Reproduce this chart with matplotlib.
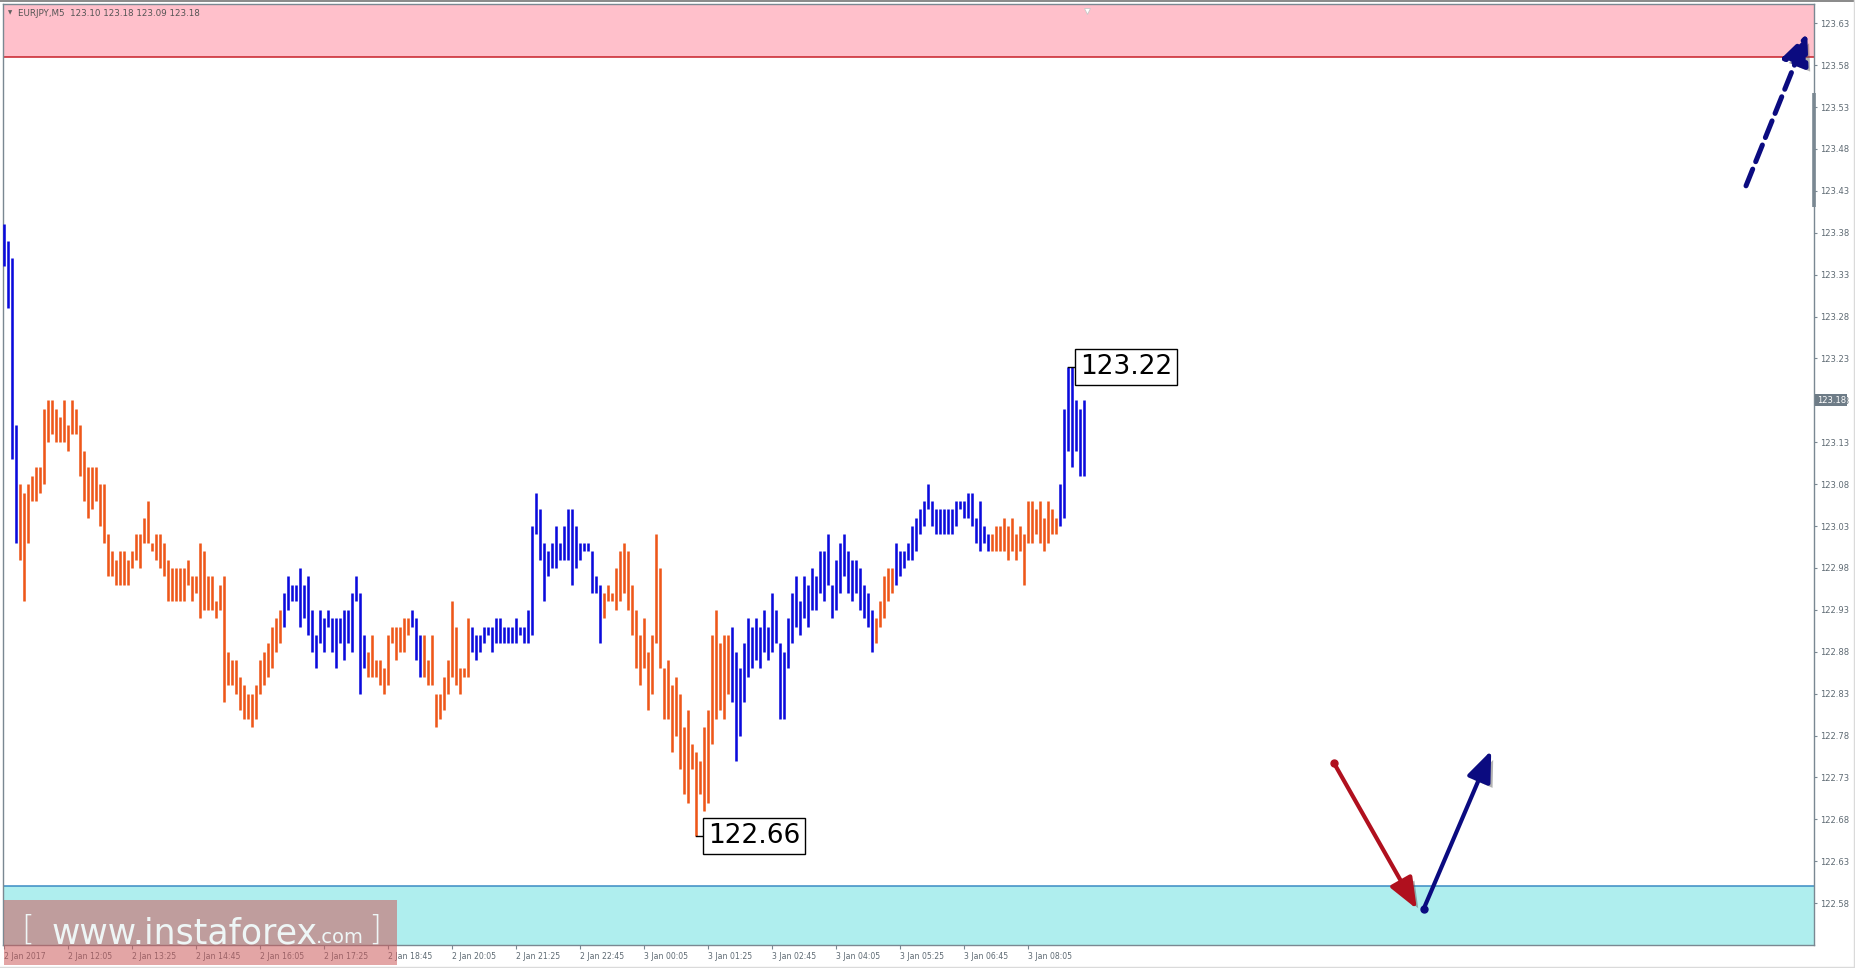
import matplotlib
matplotlib.use("Agg")
import matplotlib.pyplot as plt
import matplotlib.patheffects as pe
import matplotlib.transforms as mtrans
from matplotlib.patches import Rectangle
from matplotlib.lines import Line2D
import numpy as np

# EURJPY M5 bars (highs / lows per bar, 1 = up bar)
highs = [
    123.39, 123.37, 123.35, 123.15, 123.08, 123.07, 123.08, 123.09, 123.10, 123.10,
    123.17, 123.18, 123.18, 123.17, 123.16, 123.18, 123.15, 123.18, 123.17, 123.15,
    123.12, 123.10, 123.10, 123.10, 123.08, 123.08, 123.02, 123.00, 122.99, 123.00,
    123.00, 122.99, 123.00, 123.02, 123.02, 123.04, 123.06, 123.01, 123.02, 123.02,
    123.01, 122.99, 122.98, 122.98, 122.98, 122.98, 122.99, 122.97, 122.97, 123.01,
    123.00, 122.97, 122.97, 122.94, 122.96, 122.97, 122.88, 122.87, 122.87, 122.85,
    122.84, 122.83, 122.83, 122.84, 122.87, 122.88, 122.89, 122.91, 122.92, 122.93,
    122.95, 122.97, 122.96, 122.96, 122.98, 122.96, 122.97, 122.93, 122.90, 122.93,
    122.92, 122.93, 122.92, 122.92, 122.92, 122.93, 122.93, 122.95, 122.97, 122.95,
    122.90, 122.88, 122.90, 122.87, 122.87, 122.86, 122.90, 122.91, 122.91, 122.91,
    122.92, 122.92, 122.93, 122.92, 122.90, 122.90, 122.87, 122.90, 122.83, 122.83,
    122.85, 122.87, 122.94, 122.91, 122.86, 122.86, 122.92, 122.91, 122.90, 122.90,
    122.91, 122.91, 122.91, 122.92, 122.92, 122.91, 122.91, 122.91, 122.92, 122.91,
    122.91, 122.93, 123.03, 123.07, 123.05, 123.01, 123.00, 123.01, 123.03, 123.01,
    123.03, 123.05, 123.05, 123.03, 123.01, 123.01, 123.01, 123.00, 122.97, 122.96,
    122.95, 122.96, 122.95, 122.98, 123.00, 123.01, 123.00, 122.96, 122.93, 122.90,
    122.92, 122.88, 122.90, 123.02, 122.98, 122.86, 122.87, 122.84, 122.85, 122.83,
    122.79, 122.81, 122.77, 122.76, 122.75, 122.79, 122.81, 122.90, 122.93, 122.89,
    122.90, 122.90, 122.91, 122.88, 122.86, 122.89, 122.92, 122.91, 122.92, 122.91,
    122.93, 122.91, 122.95, 122.93, 122.89, 122.88, 122.92, 122.95, 122.97, 122.94,
    122.97, 122.96, 122.98, 122.97, 123.00, 123.00, 123.02, 122.96, 122.99, 123.01,
    123.02, 123.00, 122.99, 122.99, 122.98, 122.96, 122.95, 122.93, 122.92, 122.94,
    122.97, 122.98, 122.98, 123.01, 123.00, 123.00, 123.01, 123.03, 123.04, 123.05,
    123.06, 123.08, 123.06, 123.05, 123.05, 123.05, 123.05, 123.05, 123.06, 123.06,
    123.06, 123.07, 123.07, 123.04, 123.06, 123.03, 123.02, 123.02, 123.03, 123.03,
    123.04, 123.03, 123.04, 123.02, 123.03, 123.02, 123.06, 123.06, 123.05, 123.06,
    123.04, 123.06, 123.05, 123.04, 123.08, 123.17, 123.22, 123.22, 123.18, 123.17,
    123.18,
]
lows = [
    123.34, 123.29, 123.11, 123.01, 122.99, 122.94, 123.01, 123.06, 123.06, 123.07,
    123.08, 123.13, 123.14, 123.13, 123.13, 123.13, 123.12, 123.14, 123.14, 123.09,
    123.06, 123.04, 123.05, 123.06, 123.03, 123.01, 122.97, 122.97, 122.96, 122.96,
    122.96, 122.96, 122.98, 122.99, 122.98, 123.01, 123.01, 123.00, 122.99, 122.98,
    122.97, 122.94, 122.94, 122.94, 122.94, 122.94, 122.96, 122.94, 122.95, 122.92,
    122.93, 122.93, 122.93, 122.92, 122.93, 122.82, 122.84, 122.84, 122.83, 122.81,
    122.80, 122.80, 122.79, 122.80, 122.83, 122.84, 122.85, 122.86, 122.88, 122.89,
    122.91, 122.93, 122.94, 122.94, 122.91, 122.92, 122.90, 122.88, 122.86, 122.89,
    122.88, 122.91, 122.88, 122.86, 122.89, 122.87, 122.89, 122.88, 122.94, 122.83,
    122.86, 122.85, 122.85, 122.85, 122.84, 122.83, 122.84, 122.89, 122.87, 122.88,
    122.88, 122.90, 122.91, 122.87, 122.85, 122.85, 122.84, 122.84, 122.79, 122.80,
    122.81, 122.83, 122.85, 122.84, 122.83, 122.85, 122.85, 122.88, 122.87, 122.88,
    122.89, 122.90, 122.88, 122.89, 122.89, 122.89, 122.89, 122.89, 122.89, 122.90,
    122.89, 122.89, 122.90, 123.02, 122.99, 122.94, 122.97, 122.98, 122.98, 122.99,
    122.99, 122.99, 122.96, 122.98, 122.99, 123.00, 123.00, 122.95, 122.95, 122.89,
    122.92, 122.94, 122.94, 122.93, 122.94, 122.95, 122.93, 122.90, 122.86, 122.84,
    122.86, 122.81, 122.83, 122.89, 122.86, 122.80, 122.80, 122.76, 122.78, 122.74,
    122.71, 122.70, 122.74, 122.66, 122.71, 122.69, 122.70, 122.77, 122.80, 122.81,
    122.80, 122.83, 122.82, 122.75, 122.78, 122.82, 122.85, 122.86, 122.87, 122.86,
    122.88, 122.87, 122.88, 122.89, 122.80, 122.80, 122.86, 122.89, 122.91, 122.90,
    122.92, 122.91, 122.93, 122.93, 122.95, 122.94, 122.96, 122.92, 122.93, 122.95,
    122.97, 122.95, 122.94, 122.95, 122.93, 122.92, 122.91, 122.88, 122.89, 122.91,
    122.92, 122.94, 122.95, 122.96, 122.97, 122.98, 122.99, 122.99, 123.00, 123.02,
    123.03, 123.05, 123.03, 123.02, 123.02, 123.02, 123.02, 123.02, 123.03, 123.05,
    123.04, 123.04, 123.03, 123.01, 123.00, 123.01, 123.00, 123.00, 123.00, 123.00,
    123.00, 122.99, 123.00, 122.99, 123.00, 122.96, 123.01, 123.01, 123.02, 123.01,
    123.00, 123.01, 123.02, 123.02, 123.03, 123.04, 123.12, 123.10, 123.12, 123.09,
    123.09,
]
bar_up = [1] * 4 + [0] * 66 + [1] * 21 + [0] * 11 + [1] * 3 + [0] * 12 + [1] * 33 \
    + [0] * 32 + [1] * 36 + [0] * 5 + [1] * 24 + [0] * 17 + [1] * 7

last_open, last_close = 123.10, 123.18

time_labels = [
    "2 Jan 2017", "2 Jan 12:05", "2 Jan 13:25", "2 Jan 14:45", "2 Jan 16:05",
    "2 Jan 17:25", "2 Jan 18:45", "2 Jan 20:05", "2 Jan 21:25", "2 Jan 22:45",
    "3 Jan 00:05", "3 Jan 01:25", "3 Jan 02:45", "3 Jan 04:05", "3 Jan 05:25",
    "3 Jan 06:45", "3 Jan 08:05",
]
label_step = 16  # one time label every 16 bars

price_ticks = [122.58, 122.63, 122.68, 122.73, 122.78, 122.83, 122.88, 122.93,
               122.98, 123.03, 123.08, 123.13, 123.18, 123.23, 123.28, 123.33,
               123.38, 123.43, 123.48, 123.53, 123.58, 123.63]

resistance_zone = (123.59, 123.70)
support_zone = (122.40, 122.60)

# forecast arrows: (bar, price) -> (bar, price)
down_arrow = ((332.6, 122.747), (353.3, 122.573))
up_arrow = ((355.0, 122.573), (371.9, 122.762))
target_arrow = ((435.6, 123.436), (450.9, 123.618))


def main():
    W, H = 1856, 968
    fig = plt.figure(figsize=(W / 100, H / 100), dpi=100)
    fig.patch.set_facecolor("white")
    ax = fig.add_axes([3 / W, 1 - 945 / H, 1811 / W, 941 / H])

    axis_gray = "#7A8892"
    text_gray = "#5E6A73"
    up_col = "#0A0ADC"
    down_col = "#EE5719"

    # zones
    ax.axhspan(*resistance_zone, facecolor="#FFC0CB", edgecolor="none", zorder=0)
    ax.axhline(resistance_zone[0], color="#C8202A", lw=1.1, zorder=1)
    ax.axhspan(*support_zone, facecolor="#AFEEEE", edgecolor="none", zorder=0)
    ax.axhline(support_zone[1], color="#3A8CC4", lw=1.1, zorder=1)

    x = np.arange(len(highs))
    hi = np.array(highs)
    lo = np.array(lows)
    up = np.array(bar_up) == 1
    ax.vlines(x[up], lo[up], hi[up], color=up_col, lw=1.85, zorder=3)
    ax.vlines(x[~up], lo[~up], hi[~up], color=down_col, lw=1.85, zorder=3)

    # swing low and the high after it
    il = int(np.argmin(lo))
    ih = il + int(np.argmax(hi[il:]))
    for i, p in [(ih, hi[ih]), (il, lo[il])]:
        ax.plot([i, i + 2.3], [p, p], color="black", lw=1, zorder=4)
        ax.text(i + 3.0, p, f"{p:.2f}", fontsize=19, ha="left", va="center",
                color="black", zorder=5,
                bbox=dict(boxstyle="square,pad=0.18", fc="white", ec="black", lw=1))

    # forecast arrows with a soft shadow
    shadow = [pe.SimplePatchShadow(offset=(3, -3), shadow_rgbFace="#555555", alpha=0.45),
              pe.Normal()]
    for (start, end), col in [(down_arrow, "#B0101E"), (up_arrow, "#0B0B80")]:
        a = ax.annotate("", xy=end, xytext=start,
                        arrowprops=dict(arrowstyle="-|>,head_length=0.85,head_width=0.34",
                                        color=col, lw=3, shrinkA=0, shrinkB=0,
                                        mutation_scale=22), zorder=6)
        a.arrow_patch.set_path_effects(shadow)
        ax.plot(*start, "o", color=col, ms=5, zorder=7)

    a = ax.annotate("", xy=target_arrow[1], xytext=target_arrow[0],
                    arrowprops=dict(arrowstyle="-|>,head_length=0.85,head_width=0.38",
                                    color="#0B0B80", lw=3.6, linestyle=(0, (3.6, 1.6)),
                                    shrinkA=0, shrinkB=0, mutation_scale=22), zorder=6)
    a.arrow_patch.set_path_effects(shadow)

    ax.set_xlim(-0.175, 452.6)
    ax.set_ylim(122.530, 123.653)

    # price axis on the right
    ax.yaxis.tick_right()
    ax.set_yticks(price_ticks)
    ax.set_yticklabels([f"{t:.2f}" for t in price_ticks])
    ax.tick_params(axis="y", direction="out", length=2.5, width=0.8, color=axis_gray,
                   labelcolor=text_gray, labelsize=6, pad=2)

    # time axis
    ticks = [k * label_step for k in range(len(time_labels))]
    ax.set_xticks(ticks)
    ax.set_xticklabels(time_labels, ha="left")
    ax.tick_params(axis="x", direction="out", length=3, width=0.8, color=axis_gray,
                   labelcolor=text_gray, labelsize=5.6, pad=2)

    for s in ax.spines.values():
        s.set_color(axis_gray)
        s.set_linewidth(1)

    # scroll marker on the price axis and chart shift marker
    tr = mtrans.blended_transform_factory(ax.transAxes, ax.transData)
    ax.plot([1.0, 1.0], [123.411, 123.547], color=axis_gray, lw=2.6,
            transform=tr, clip_on=False, zorder=8, solid_capstyle="butt")
    tr2 = mtrans.blended_transform_factory(ax.transData, ax.transAxes)
    ax.plot([len(highs) - 0.2], [0.993], marker="v", ms=5, mfc="white",
            mec="#C8C8C8", mew=0.6, transform=tr2, clip_on=False, zorder=8)

    # current price label
    ax.text(1.0015, last_close, f"{last_close:.2f}", transform=tr, fontsize=6,
            color="white", ha="left", va="center", zorder=9,
            bbox=dict(boxstyle="square,pad=0.18", fc="#6E7C87", ec="none"))

    # header
    fig.text(8 / W, 1 - 13 / H, "\u25BC", fontsize=4, color="#606060", va="center")
    fig.text(18 / W, 1 - 13 / H,
             f"EURJPY,M5  {last_open:.2f} {hi[-1]:.2f} {lo[-1]:.2f} {last_close:.2f}",
             fontsize=6.3, color="#555555", va="center")

    # outer frame
    fig.add_artist(Line2D([0, 1], [1 - 0.8 / H, 1 - 0.8 / H], transform=fig.transFigure,
                          color="#808080", lw=1.3))
    fig.add_artist(Line2D([1 - 2 / W, 1 - 2 / W], [0, 1], transform=fig.transFigure,
                          color="#DADADA", lw=1))
    fig.add_artist(Line2D([0, 1], [1.5 / H, 1.5 / H], transform=fig.transFigure,
                          color="#DADADA", lw=1))

    # watermark
    fig.add_artist(Rectangle((4 / W, 1 - 965 / H), 393 / W, 65 / H,
                             transform=fig.transFigure, facecolor="#CD5B5B",
                             alpha=0.55, edgecolor="none", zorder=10))
    wm_col = "#EEF6F6"
    base = 1 - 943 / H
    fig.text(21 / W, base + 0.003, "[", fontsize=24, color=wm_col, zorder=11,
             va="baseline", fontweight="light")
    fig.text(52 / W, base, "www.instaforex", fontsize=25, color=wm_col, zorder=11,
             va="baseline")
    fig.text(316 / W, base, ".com", fontsize=14, color=wm_col, zorder=11, va="baseline")
    fig.text(368 / W, base + 0.003, "]", fontsize=24, color=wm_col, zorder=11,
             va="baseline", fontweight="light")

    fig.savefig("out.png", dpi=100)


if __name__ == '__main__':
    main()
